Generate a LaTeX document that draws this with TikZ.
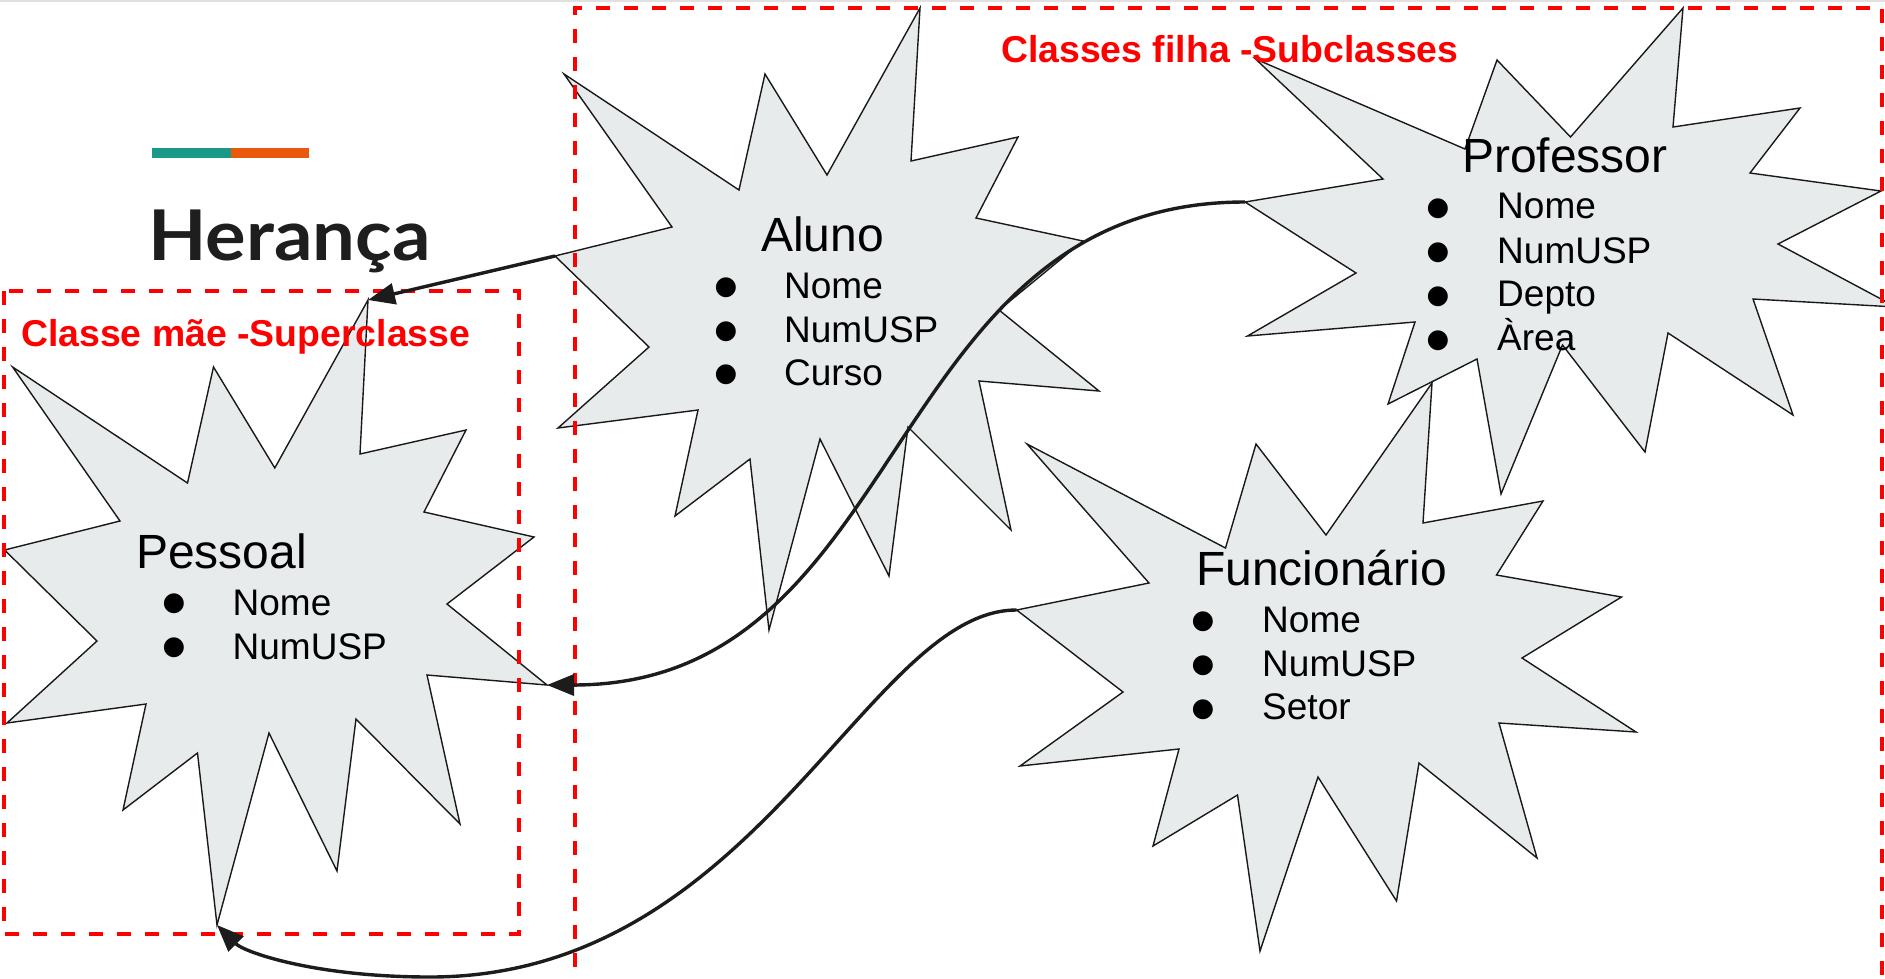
\documentclass[tikz,border=0pt]{standalone}
\usepackage{fontspec}
\setmainfont{Liberation Sans}
\newfontfamily\headfont{Lato}
\newfontfamily\dejavu{DejaVu Sans}
\usetikzlibrary{arrows.meta}
\definecolor{starfill}{RGB}{232,235,236}
\definecolor{hbteal}{RGB}{26,152,136}
\definecolor{hborange}{RGB}{234,88,12}
\definecolor{connc}{RGB}{28,28,28}
\definecolor{headc}{RGB}{30,30,30}
\begin{document}
\begin{tikzpicture}[x=1pt,y=-1pt,
  starshape/.style={fill=starfill, draw=black!90, line width=1.4pt, line join=miter},
  titletext/.style={anchor=base west, inner sep=0pt, font=\fontsize{48}{58}\selectfont},
  itemtext/.style={anchor=base west, inner sep=0pt, font=\fontsize{37}{44}\selectfont},
  bulletmark/.style={inner sep=0pt, font=\dejavu\fontsize{26}{26}\selectfont},
  redlabel/.style={anchor=base west, inner sep=0pt, text=red, font=\bfseries\fontsize{37.4}{44}\selectfont},
  redbox/.style={draw=red, line width=4pt, dash pattern=on 14pt off 14pt},
  conn/.style={draw=connc, line width=3.4pt, -{Triangle[length=27pt,width=21pt]}}
]
\useasboundingbox (0,0) rectangle (1885,978);
\draw[black!12, line width=1.5pt] (0,0.75) -- (1885,0.75);

% heading
\fill[hbteal] (152,148.3) rectangle (231,157.7);
\fill[hborange] (231,148.3) rectangle (309,157.7);
\node[anchor=base west, inner sep=0pt, text=headc, font=\headfont\bfseries\fontsize{70}{80}\selectfont] (heading) at (148,260) {\scalebox{1.085}[1]{Herança}};

% Pessoal star
\draw[starshape] (12.6,367) -- (187.5,483) -- (213.5,367) -- (274.8,468) -- (368,300) -- (360,454) -- (466,430) -- (424,512) -- (534,537) -- (447,604) -- (547,685) -- (427,675) -- (460,824) -- (356,719) -- (337,871) -- (269,733) -- (217,925) -- (197.5,753) -- (123,810) -- (146,704) -- (7,723) -- (97,641) -- (4.6,550) -- (120,521) -- cycle;
% Aluno star
\draw[starshape] (564,74) -- (739,190) -- (765,74) -- (827,175) -- (920,8) -- (911,161) -- (1018,137) -- (976,218) -- (1083,241) -- (999,310) -- (1099,391) -- (979,381) -- (1011,530) -- (908,427) -- (889,576) -- (820,439) -- (769,630) -- (750,459) -- (675,516) -- (698,410) -- (558,428) -- (649,347) -- (555,256) -- (672,227) -- cycle;
% Professor star
\draw[starshape] (1255.5,59) -- (1465,149) -- (1497,60) -- (1570.5,137) -- (1683,8) -- (1673,127) -- (1800,108) -- (1750,173) -- (1881,191) -- (1778,244) -- (1896,307) -- (1753,299) -- (1793,415) -- (1668,333) -- (1645,452) -- (1562.5,345) -- (1501,494) -- (1477,359) -- (1388,404) -- (1415,322) -- (1247.5,336) -- (1356,273) -- (1245,202) -- (1383,179) -- cycle;
% Funcionario star
\draw[starshape] (1027,444) -- (1225.5,548) -- (1256,444) -- (1326,535) -- (1432,383) -- (1423,523) -- (1543,501) -- (1496.5,575) -- (1621.5,597) -- (1522,658) -- (1636,732) -- (1499,723) -- (1537,858) -- (1419,763) -- (1396.5,901) -- (1318,777) -- (1260,951) -- (1237.5,795) -- (1153,846) -- (1179,749) -- (1020,766) -- (1123,692) -- (1016.6,610) -- (1149,583) -- cycle;

% connector end points (star vertices)
\coordinate (pesTop) at (368,300);
\coordinate (pesRight) at (547,685);
\coordinate (pesBottom) at (217,925);
\coordinate (aluLeft) at (555,256);
\coordinate (profLeft) at (1245,202);
\coordinate (funLeft) at (1016.6,610);
\coordinate (lowPoint) at (430,977);

% texts: Pessoal
\node[titletext] (pesTitle) at (136,568) {Pessoal};
\node[bulletmark] (pesB1) at (174,604) {●};
\node[itemtext] (pesI1) at (232.5,615) {Nome};
\node[bulletmark] (pesB2) at (174,648) {●};
\node[itemtext] (pesI2) at (232.5,659.5) {NumUSP};
% Aluno
\node[titletext] (aluTitle) at (761,251) {Aluno};
\node[bulletmark] (aluB1) at (726,288) {●};
\node[itemtext] (aluI1) at (784,298.5) {Nome};
\node[bulletmark] (aluB2) at (726,331.5) {●};
\node[itemtext] (aluI2) at (784,342) {NumUSP};
\node[bulletmark] (aluB3) at (726,375) {●};
\node[itemtext] (aluI3) at (784,385.6) {Curso};
% Professor
\node[titletext] (profTitle) at (1462,172) {Professor};
\node[bulletmark] (profB1) at (1438,209) {●};
\node[itemtext] (profI1) at (1497,218.5) {Nome};
\node[bulletmark] (profB2) at (1438,253) {●};
\node[itemtext] (profI2) at (1497,263) {NumUSP};
\node[bulletmark] (profB3) at (1438,296.5) {●};
\node[itemtext] (profI3) at (1497,306.5) {Depto};
\node[bulletmark] (profB4) at (1438,340.5) {●};
\node[itemtext] (profI4) at (1497,350) {Àrea};
% Funcionario
\node[titletext] (funTitle) at (1196,585) {Funcionário};
\node[bulletmark] (funB1) at (1203,622) {●};
\node[itemtext] (funI1) at (1262,632.5) {Nome};
\node[bulletmark] (funB2) at (1203,666) {●};
\node[itemtext] (funI2) at (1262,676.5) {NumUSP};
\node[bulletmark] (funB3) at (1203,709.5) {●};
\node[itemtext] (funI3) at (1262,719.5) {Setor};

% dashed boxes and labels
\draw[redbox] (4,291) rectangle (518.5,934);
\draw[redbox] (575,995) -- (575,7.5) -- (1882,7.5) -- (1882,995);
\node[redlabel] (superLabel) at (21,346) {Classe mãe -Superclasse};
\node[redlabel] (subLabel) at (1001,62) {Classes filha -Subclasses};

% connectors
\draw[conn] (aluLeft) -- (pesTop);
\draw[conn] (profLeft) .. controls (880,202) and (912,685) .. (pesRight);
\draw[conn] (funLeft) .. controls (867,610) and (757,977) .. (lowPoint) .. controls (314,977) and (244,952) .. (pesBottom);
\end{tikzpicture}
\end{document}
